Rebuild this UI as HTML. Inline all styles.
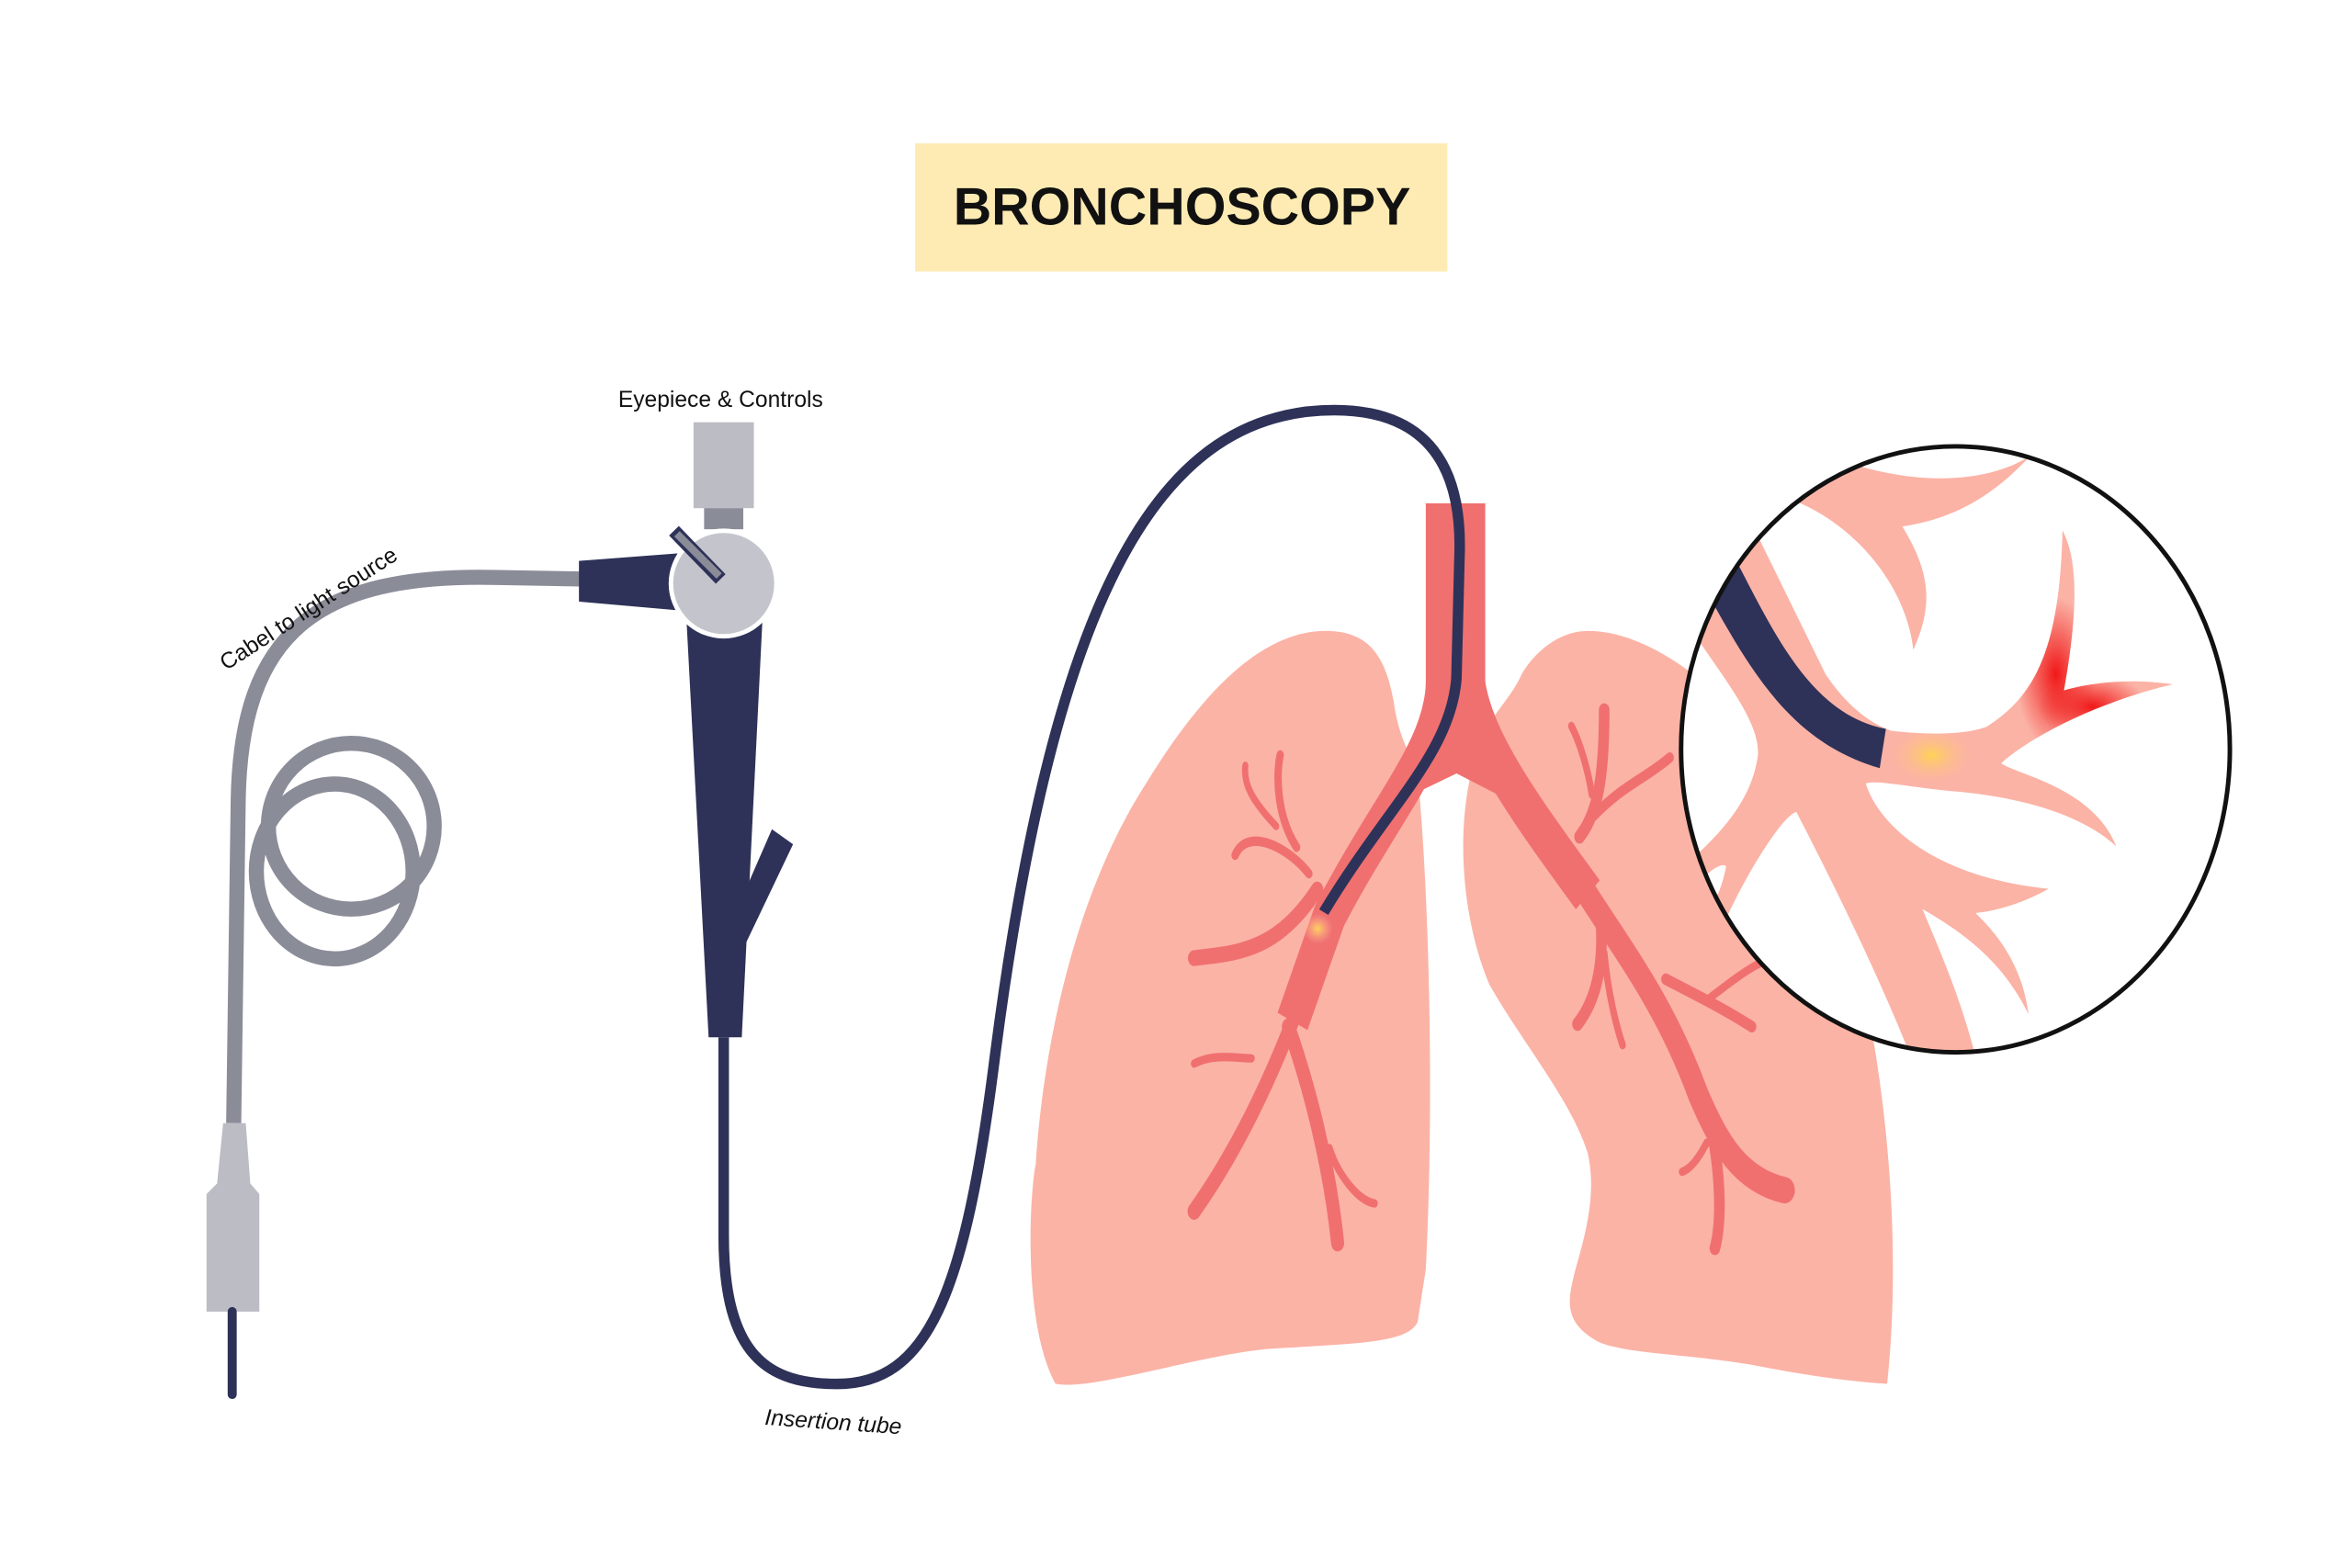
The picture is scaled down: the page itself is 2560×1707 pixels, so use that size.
<!DOCTYPE html>
<html><head><meta charset="utf-8"><style>html,body{margin:0;padding:0;background:#fff}svg{display:block}</style></head>
<body>
<svg width="2560" height="1707" viewBox="0 0 1560 1040" xmlns="http://www.w3.org/2000/svg">
<defs>
<clipPath id="cc"><ellipse cx="1297" cy="497" rx="182" ry="201"/></clipPath>
<radialGradient id="glow" cx="0.5" cy="0.5" r="0.5"><stop offset="0" stop-color="#ffd257"/><stop offset="1" stop-color="#fbb3a6" stop-opacity="0"/></radialGradient>
<radialGradient id="red" cx="0.5" cy="0.5" r="0.5"><stop offset="0" stop-color="#f01818"/><stop offset="1" stop-color="#f01818" stop-opacity="0"/></radialGradient>
</defs>
<rect width="1560" height="1040" fill="#fff"/>
<rect x="607" y="95" width="353" height="85" fill="#fdebb3"/>
<text x="784" y="149" font-family="Liberation Sans, sans-serif" font-weight="bold" font-size="35" text-anchor="middle" fill="#111">BRONCHOSCOPY</text>

<g transform="translate(792,317) scale(0.272,0.35)">
<path d="M320,290 C420,290 470,330 490,440 C505,500 520,510 545,560 C575,800 585,1200 565,1500 L545,1600 C520,1640 400,1640 176,1651 C0,1665 -250,1730 -338,1717 C-420,1600 -400,1350 -386,1300 C-370,1100 -300,800 -118,580 C0,430 150,290 320,290 Z" fill="#fbb3a6"/>
<path d="M960,290 C1100,290 1250,380 1350,470 C1500,620 1600,800 1650,1037 C1700,1250 1720,1500 1690,1717 C1550,1710 1420,1690 1353,1680 C1200,1660 1050,1660 985,1637 C900,1600 910,1560 930,1500 C960,1420 980,1350 960,1280 C920,1180 800,1070 720,960 C660,850 640,700 670,580 C700,450 760,440 800,370 C840,320 900,290 960,290 Z" fill="#fbb3a6"/>
<g fill="none" stroke="#f07070" stroke-linecap="round" stroke-linejoin="round">
<rect x="565" y="48" width="145" height="360" fill="#f07070" stroke="none"/>
<path d="M565,400 C560,470 520,520 470,580 L560,590 L640,560 L740,600 L800,560 C740,500 710,460 710,400 Z" fill="#f07070" stroke="none"/>
<path d="M605,390 C600,520 470,620 330,830 L240,1030" stroke-width="80" stroke-linecap="butt"/>
<path d="M670,390 C690,500 800,620 960,790" stroke-width="80" stroke-linecap="butt"/>
<path d="M960,790 C1050,900 1150,1000 1230,1170 C1280,1260 1330,1330 1440,1350" stroke-width="50"/>
<path d="M300,780 C200,900 100,900 0,910" stroke-width="30"/>
<path d="M280,750 C230,700 130,660 100,715" stroke-width="18"/>
<path d="M250,700 C200,640 200,560 210,525" stroke-width="18"/>
<path d="M200,660 C140,610 120,580 125,545" stroke-width="15"/>
<path d="M240,1030 C180,1150 100,1280 0,1390" stroke-width="32"/>
<path d="M230,1040 C280,1150 330,1300 350,1450" stroke-width="32"/>
<path d="M330,1270 C350,1320 400,1370 440,1375" stroke-width="16"/>
<path d="M140,1100 C100,1100 50,1090 0,1110" stroke-width="16"/>
<path d="M940,680 C980,640 1000,580 1000,440" stroke-width="26"/>
<path d="M970,600 C960,550 940,500 920,470" stroke-width="16"/>
<path d="M975,640 C1050,580 1100,570 1160,530" stroke-width="20"/>
<path d="M990,820 C1000,900 990,980 935,1035" stroke-width="26"/>
<path d="M1000,900 C1010,980 1030,1040 1045,1075" stroke-width="16"/>
<path d="M1150,950 C1250,990 1300,1010 1360,1040" stroke-width="22"/>
<path d="M1250,990 C1300,960 1350,930 1380,920" stroke-width="16"/>
<path d="M1260,1230 C1280,1300 1290,1400 1270,1460" stroke-width="26"/>
<path d="M1250,1260 C1230,1290 1210,1310 1190,1315" stroke-width="16"/>
</g>
</g>
<circle cx="874" cy="616" r="10" fill="url(#glow)"/>

<g fill="none" stroke="#8a8c98" stroke-width="10">
<path d="M385,384 L330,383 C210,380 160,420 158,530 L155,745"/>
<ellipse cx="233" cy="548" rx="55" ry="55"/>
<ellipse cx="222" cy="578" rx="52" ry="58"/>
</g>
<path d="M148,745 L163,745 L166,785 L172,792 L172,870 L137,870 L137,792 L144,785 Z" fill="#bbbcc4"/>
<line x1="154" y1="870" x2="154" y2="925" stroke="#2e3258" stroke-width="6" stroke-linecap="round"/>

<path d="M480,688 L480,820 C480,900 510,918 555,918 C615,918 640,860 660,700 C700,390 770,272 885,272 C955,272 970,320 968,370 L966,450 C962,500 920,535 878,605" fill="none" stroke="#2e3258" stroke-width="7"/>

<polygon points="384,372 450,367 452,405 384,399" fill="#2e3258"/>
<polygon points="455,405 506,405 492,688 470,688" fill="#2e3258"/>
<polygon points="488,605 512,550 526,560 495,625" fill="#2e3258"/>
<rect x="460" y="280" width="40" height="57" fill="#bbbcc4"/>
<rect x="467" y="337" width="26" height="14" fill="#8a8c98"/>
<circle cx="480" cy="387" r="35" fill="#c4c5cc" stroke="#fff" stroke-width="3"/>
<line x1="447" y1="352" x2="478" y2="384" stroke="#2e3258" stroke-width="9"/>
<line x1="449" y1="354" x2="477" y2="382" stroke="#8a8c98" stroke-width="5"/>

<text x="410" y="270" font-family="Liberation Sans, sans-serif" font-size="15" fill="#111">Eyepiece &amp; Controls</text>
<text transform="translate(150,445) rotate(-33)" font-family="Liberation Sans, sans-serif" font-size="15" fill="#111">Cabel to light source</text>
<text transform="translate(507,945) rotate(4)" font-family="Liberation Sans, sans-serif" font-size="15" font-style="italic" fill="#111">Insertion tube</text>

<g clip-path="url(#cc)">
<ellipse cx="1297" cy="497" rx="182" ry="201" fill="#fbb3a6"/>
<g transform="translate(1109,286) scale(0.2425,0.2686)">
<ellipse cx="1050" cy="600" rx="110" ry="190" fill="url(#red)"/>
<ellipse cx="1150" cy="680" rx="150" ry="80" fill="url(#red)"/>
<ellipse cx="710" cy="800" rx="130" ry="80" fill="url(#glow)"/>
<path fill="#fff" d="M490,80 C700,140 880,120 980,60 L980,-20 L490,-20 Z"/>
<path fill="#fff" d="M230,250 L420,600 C480,680 540,720 600,740 C700,750 800,750 860,730 C980,660 1060,560 1068,245 C1100,300 1120,400 1072,640 C1150,620 1250,610 1370,625 C1200,660 1000,740 900,820 C950,850 1150,880 1215,1025 C1100,930 900,900 780,890 C650,880 560,860 530,870 C560,960 700,1100 1030,1130 C950,1170 880,1185 830,1190 C900,1250 960,1330 975,1440 C900,1300 780,1230 685,1180 C740,1300 790,1400 835,1560 L1560,1560 L1560,-20 L990,-20 L980,60 C900,140 790,215 630,235 C700,340 720,420 660,540 C640,380 500,230 330,170 Z"/>
<path fill="#fff" d="M60,500 C150,620 240,720 235,800 C220,900 150,980 50,1060 L-20,1060 L-20,500 Z"/>
<path fill="#fff" d="M340,940 C300,950 200,1100 150,1200 L150,1560 L660,1560 C560,1330 420,1080 340,940 Z"/>
<path fill="#fff" d="M90,1100 C110,1080 140,1065 148,1075 C140,1110 130,1140 110,1170 Z"/>
<path fill="#2e3258" d="M170,310 C280,500 380,700 585,735 L568,832 C330,770 220,600 100,405 Z"/>
</g>
</g>
<ellipse cx="1297" cy="497" rx="182" ry="201" fill="none" stroke="#111" stroke-width="3"/>
</svg>
</body></html>
